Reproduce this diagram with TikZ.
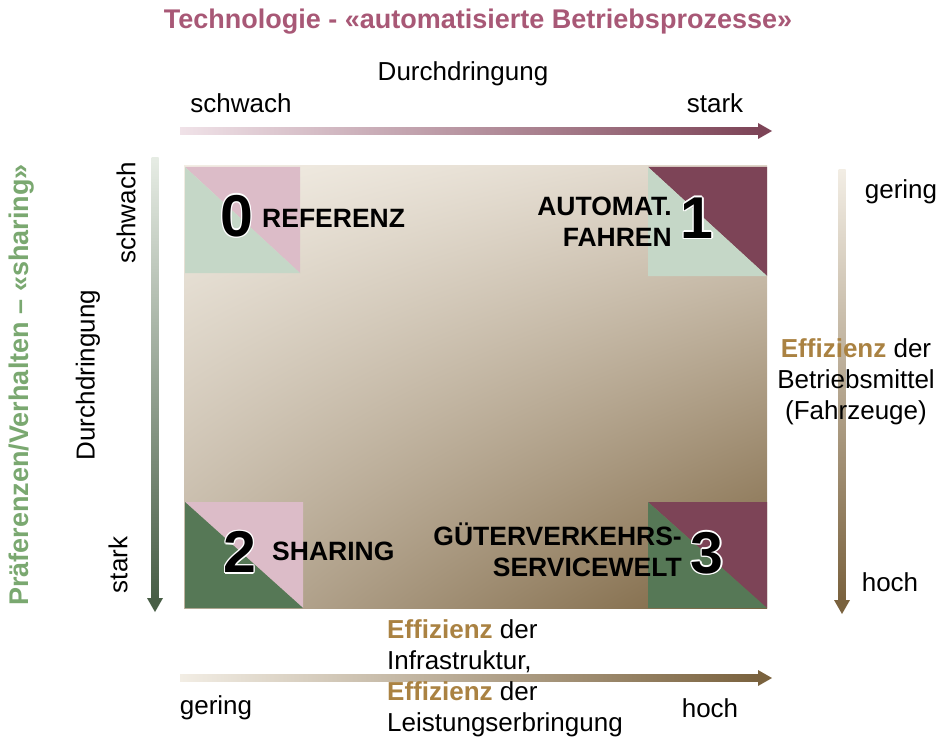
\documentclass[tikz,border=0pt]{standalone}
\usepackage{fontspec}
\usetikzlibrary{shadings}
\setmainfont{Liberation Sans}
\definecolor{titlecol}{RGB}{168,88,118}
\definecolor{sharecol}{RGB}{122,168,112}
\definecolor{effcol}{RGB}{170,130,66}
\definecolor{pinkl}{RGB}{220,188,200}
\definecolor{greenl}{RGB}{197,215,199}
\definecolor{mauve}{RGB}{125,68,87}
\definecolor{greend}{RGB}{86,120,86}
\definecolor{creaml}{RGB}{242,237,228}
\definecolor{brownd}{RGB}{122,98,62}
\definecolor{fieldur}{RGB}{222,213,200}
\definecolor{fieldll}{RGB}{190,177,158}
\definecolor{pinkpale}{RGB}{240,226,232}
\definecolor{greenpale}{RGB}{230,236,228}
\definecolor{greendk}{RGB}{72,94,70}
\newcommand\wcopy[3]{\rlap{\hspace*{#1}\raisebox{#2}{\color{white}#3}}}
\newcommand\outnum[1]{\wcopy{1.4pt}{0pt}{#1}\wcopy{-1.4pt}{0pt}{#1}\wcopy{0pt}{1.4pt}{#1}\wcopy{0pt}{-1.4pt}{#1}\wcopy{1pt}{1pt}{#1}\wcopy{-1pt}{1pt}{#1}\wcopy{1pt}{-1pt}{#1}\wcopy{-1pt}{-1pt}{#1}#1}
\tikzset{
  txt/.style={font=\fontsize{26}{31}\selectfont, inner sep=0pt},
  btxt/.style={font=\fontsize{27}{31}\selectfont\bfseries, inner sep=0pt},
  lbl/.style={font=\fontsize{26.5}{31}\selectfont\bfseries, inner sep=0pt},
  num/.style={font=\fontsize{59}{60}\selectfont\bfseries, inner sep=0pt},
}
\begin{document}
\begin{tikzpicture}[x=1pt,y=-1pt]
\useasboundingbox (0,0) rectangle (939,746);
% main field
\shade[upper left=creaml, upper right=fieldur, lower left=fieldll, lower right=brownd] (184,166) rectangle (767,608);
% corner squares
\fill[pinkl] (185,167) -- (300,167) -- (300,273) -- cycle;
\fill[greenl] (185,167) -- (185,273) -- (300,273) -- cycle;
\fill[mauve] (648,167) -- (767,167) -- (767,276) -- cycle;
\fill[greenl] (648,167) -- (648,276) -- (767,276) -- cycle;
\fill[pinkl] (185,502) -- (303,502) -- (303,608) -- cycle;
\fill[greend] (185,502) -- (185,608) -- (303,608) -- cycle;
\fill[mauve] (648,502) -- (767,502) -- (767,608) -- cycle;
\fill[greend] (648,502) -- (648,608) -- (767,608) -- cycle;
% numbers and labels
\node[num] (n0) at (237,216) {\outnum{0}};
\node[num] (n1) at (697,218) {\outnum{1}};
\node[num] (n2) at (240,552) {\outnum{2}};
\node[num] (n3) at (707,553) {\outnum{3}};
\node[lbl, anchor=west] (l0) at (262,218) {REFERENZ};
\node[lbl, anchor=east, align=right] (l1) at (672,222) {AUTOMAT.\\FAHREN};
\node[lbl, anchor=west] (l2) at (272,551) {SHARING};
\node[lbl, anchor=east, align=right] (l3) at (682,550) {GÜTERVERKEHRS-\\SERVICEWELT};
% top axis
\node[btxt, text=titlecol] (ttl) at (478,22) {Technologie - «automatisierte Betriebsprozesse»};
\node[txt] (tdur) at (463,74) {Durchdringung};
\node[txt] (tsch) at (241,103) {schwach};
\node[txt] (tsta) at (715,103) {stark};
\shade[left color=pinkpale, right color=mauve] (180,127.5) rectangle (759,134.5);
\fill[mauve] (758,123) -- (772,131) -- (758,139) -- cycle;
% left axis
\node[btxt, text=sharecol, rotate=90] (ltl) at (22,385) {Präferenzen/Verhalten – «sharing»};
\node[txt, rotate=90] (ldur) at (88,375) {Durchdringung};
\node[txt, rotate=90] (lsch) at (126,213) {schwach};
\node[txt, rotate=90] (lsta) at (118,565) {stark};
\shade[top color=greenpale, bottom color=greendk] (151.5,158) rectangle (158.5,599);
\fill[greendk] (147,598) -- (155,612) -- (163,598) -- cycle;
% right axis
\shade[top color=creaml, bottom color=brownd] (838.5,170) rectangle (845.5,601);
\fill[brownd] (834,600) -- (842,614) -- (850,600) -- cycle;
\node[txt] (rger) at (901,192) {gering};
\node[txt, align=center] (reff) at (856,382) {{\bfseries\color{effcol}Effizienz} der\\Betriebsmittel\\(Fahrzeuge)};
\node[txt] (rhoch) at (890,582) {hoch};
% bottom axis
\shade[left color=creaml, right color=brownd] (180,674.5) rectangle (759,681.5);
\fill[brownd] (758,670) -- (772,678) -- (758,686) -- cycle;
\node[txt] (bger) at (216,708) {gering};
\node[txt] (bhoch) at (710,708) {hoch};
\node[txt, align=left, anchor=north west] (beff) at (387,619) {{\bfseries\color{effcol}Effizienz} der\\Infrastruktur,\\{\bfseries\color{effcol}Effizienz} der\\Leistungserbringung};
\end{tikzpicture}
\end{document}
